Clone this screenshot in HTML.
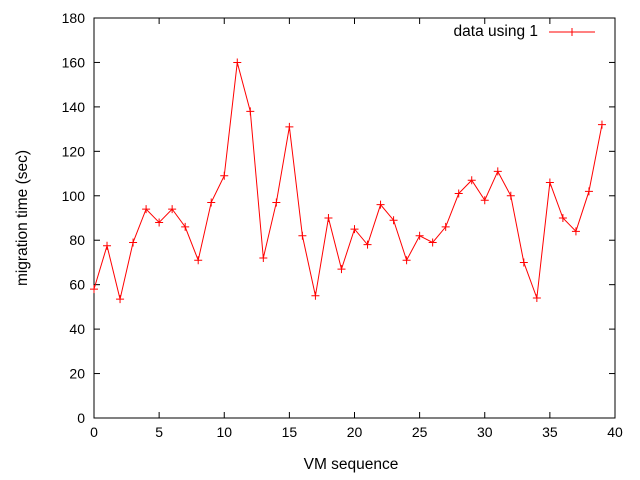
<!DOCTYPE html>
<html><head><meta charset="utf-8"><style>
body{margin:0;background:#fff}
svg{display:block;font-family:"Liberation Sans",sans-serif;font-size:14px}
.big{font-size:15.5px}
</style></head><body>
<svg id="chart" width="640" height="480"></svg>
<script>
const xValues=[0,1,2,3,4,5,6,7,8,9,10,11,12,13,14,15,16,17,18,19,20,21,22,23,24,25,26,27,28,29,30,31,32,33,34,35,36,37,38,39];
const yValues=[58,77.5,53.5,79,94,88,94,86,71,97,109,160,138,72,97,131,82,55,90,67,85,78,96,89,71,82,79,86,101,107,98,111,100,70,54,106,90,84,102,132];
const xTicks=[0,5,10,15,20,25,30,35,40];
const yTicks=[0,20,40,60,80,100,120,140,160,180];
const L=94,R=615,T=18,B=418;
const xs=v=>L+(v-0)/40*(R-L);
const ys=v=>B-(v/180)*(B-T);
const svg=document.getElementById('chart');
const NS='http://www.w3.org/2000/svg';
function mk(tag,attrs,parent){const e=document.createElementNS(NS,tag);for(const k in attrs)e.setAttribute(k,attrs[k]);(parent||svg).appendChild(e);return e;}
const frame=mk('rect',{x:L,y:T,width:R-L,height:B-T,fill:'none',stroke:'#000','stroke-width':1});


xTicks.forEach(t=>{const x=xs(t);
 const g=mk('g',{});
 
 
 mk('line',{x1:x,y1:B,x2:x,y2:B-6,stroke:'#000'},g);
 mk('line',{x1:x,y1:T,x2:x,y2:T+6,stroke:'#000'},g);
 const tx=mk('text',{x:x,y:B+19,'text-anchor':'middle'},g);tx.textContent=t;});
yTicks.forEach(t=>{const y=ys(t);
 const g=mk('g',{});
 
 
 mk('line',{x1:L,y1:y,x2:L+6,y2:y,stroke:'#000'},g);
 mk('line',{x1:R,y1:y,x2:R-6,y2:y,stroke:'#000'},g);
 const tx=mk('text',{x:L-9,y:y+5,'text-anchor':'end'},g);tx.textContent=t;});
const xt=mk('text',{x:351,y:469,'text-anchor':'middle',class:'big'});xt.textContent='VM sequence';


const yt=mk('text',{x:0,y:0,'text-anchor':'middle',class:'big',transform:'translate(27,218) rotate(-90)'});yt.textContent='migration time (sec)';


const pts=xValues.map((x,i)=>xs(x)+','+ys(yValues[i])).join(' ');
const line=mk('polyline',{points:pts,fill:'none',stroke:'#f00','stroke-width':1});


xValues.forEach((x,i)=>{const px=xs(x),py=ys(yValues[i]);
 const p=mk('path',{d:`M${px-4},${py}H${px+4}M${px},${py-4}V${py+4}`,stroke:'#f00','stroke-width':1});
 
 });
const lg=mk('g',{});


const lt=mk('text',{x:538,y:36,'text-anchor':'end',class:'big'},lg);lt.textContent='data using 1';
mk('path',{d:'M549,32H595M572,28V36',stroke:'#f00','stroke-width':1},lg);
</script>
</body></html>
